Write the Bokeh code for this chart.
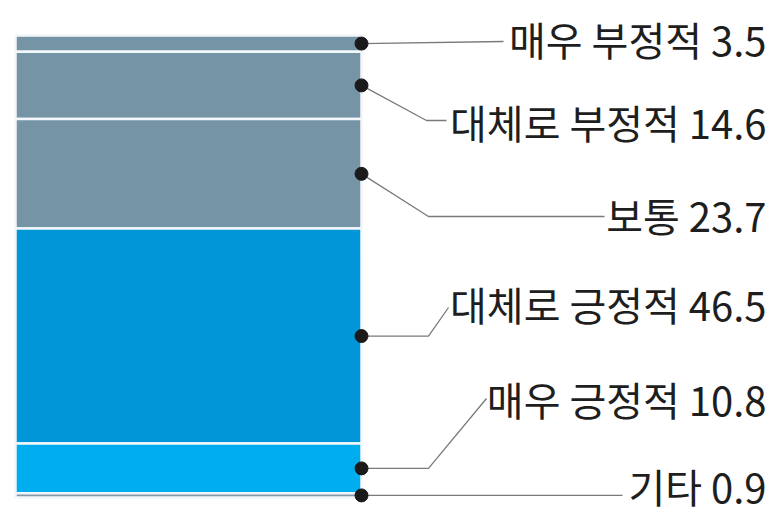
from bokeh.plotting import figure
from bokeh.models import Range1d, ColumnDataSource
from bokeh.embed import file_html
from bokeh.resources import INLINE
from bokeh.core.properties import value

# ---- data ----
categories = ["매우 부정적", "대체로 부정적", "보통", "대체로 긍정적", "매우 긍정적", "기타"]
values = [3.5, 14.6, 23.7, 46.5, 10.8, 0.9]
colors = ["#7594a6", "#7594a6", "#7594a6", "#0096d8", "#00adef", "#8299a8"]

# ---- layout (page pixels) ----
W, H = 775, 513
PAGE = 0
BAR_TOP_PX, PX_PER_PCT = 35, 4.62
BAR_LEFT, BAR_RIGHT = 15, 361
TEXT_RIGHT = 766
label_y_px = [38, 121, 214, 303, 398, 485]
# leader elbow points (page px) after the dot
elbows = [
    [(503, 41)],
    [(426, 120), (446, 120)],
    [(428, 216), (604, 216)],
    [(428, None), (448, 307)],
    [(428, None), (486, 398)],
    [(622, None)],
]


def pct(py):
    return (py - BAR_TOP_PX) / PX_PER_PCT


p = figure(width=W, height=H, output_backend="svg", toolbar_location=None,
           x_range=Range1d(PAGE, PAGE + W),
           y_range=Range1d(pct(PAGE + H), pct(PAGE)),
           x_axis_location=None, y_axis_location=None, min_border=0)
p.grid.visible = False
p.outline_line_color = None
p.background_fill_color = "white"
p.border_fill_color = "white"

# stacked bar from data
starts, ends = [], []
acc = 0.0
for v in values:
    starts.append(acc)
    acc += v
    ends.append(acc)
mids = [(s + e) / 2 for s, e in zip(starts, ends)]

src = ColumnDataSource(dict(top=starts, bottom=ends, color=colors))
p.quad(left=BAR_LEFT, right=BAR_RIGHT, top="top", bottom="bottom", fill_color="color",
       line_color="#f4f7f9", line_width=2.5, source=src)

# leader lines
xs, ys = [], []
for m, el in zip(mids, elbows):
    lx, ly = [BAR_RIGHT], [m]
    for (ex, ey) in el:
        lx.append(ex)
        ly.append(m if ey is None else pct(ey))
    xs.append(lx)
    ys.append(ly)
p.multi_line(xs=xs, ys=ys, line_color="#7a7a7a", line_width=1.3)

p.scatter(x=[BAR_RIGHT] * len(mids), y=mids, size=13, fill_color="#1a1a1a",
          line_color="#1a1a1a")

labels = [f"{c} {v}" for c, v in zip(categories, values)]
p.text(x=[TEXT_RIGHT] * len(labels), y=[pct(y) for y in label_y_px], text=labels,
       text_align="right", text_baseline="middle",
       text_font=value("Noto Sans CJK KR"),
       text_font_size="40px", text_color="#1e1e1e")

open("out.html", "w").write(file_html(p, INLINE))
